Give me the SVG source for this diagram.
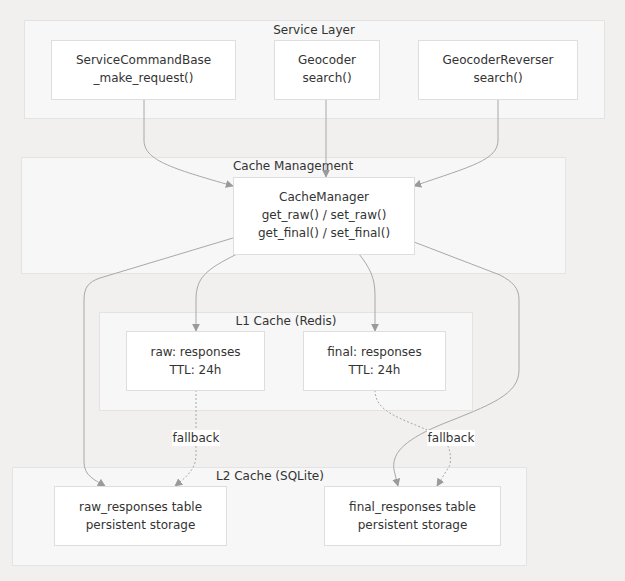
<svg xmlns="http://www.w3.org/2000/svg" width="625" height="581" viewBox="0 0 625 581">
<defs>
<marker id="arr" viewBox="0 0 10 10" refX="9" refY="5" markerWidth="8" markerHeight="8" orient="auto" markerUnits="userSpaceOnUse">
<path d="M0,0 L10,5 L0,10 z" fill="#9a9a9a"/>
</marker>
<style>
.cluster{fill:#f7f7f7;stroke:#e3e3e3;stroke-width:1}
.node{fill:#ffffff;stroke:#dedede;stroke-width:1}
text{font-family:"DejaVu Sans","Noto Sans",sans-serif;font-size:12px;fill:#333;text-anchor:middle}
.edge{fill:none;stroke:#a8a8a8;stroke-width:1;marker-end:url(#arr)}
.dot{stroke-dasharray:2,2}
.lbl{fill:#ffffff}
</style>
</defs>
<rect width="625" height="581" fill="#f1f0ee"/>
<g id="clusters">
<g id="service-layer"><rect class="cluster" x="24.5" y="20.5" width="580" height="98"/><text x="314" y="34">Service Layer</text></g>
<g id="cache-management"><rect class="cluster" x="21.5" y="157.5" width="544" height="116"/><text x="293" y="170">Cache Management</text></g>
<g id="l1-cache"><rect class="cluster" x="99.5" y="312.5" width="373" height="98"/><text x="286" y="325">L1 Cache (Redis)</text></g>
<g id="l2-cache"><rect class="cluster" x="12.5" y="467.5" width="514" height="98"/><text x="270" y="480">L2 Cache (SQLite)</text></g>
</g>
<g id="connectors">
<path class="edge" d="M144,99 L144,140 C144,160 170,168 233,186"/>
<path class="edge" d="M326,99 L326,177"/>
<path class="edge" d="M498,99 L498,140 C498,160 472,166 414,186"/>
<path class="edge" d="M233,238 L100,278 C88,282 84,288 84,300 L84,462 C84,476 95,480 105,486"/>
<path class="edge" d="M237,254 C205,270 196,278 196,300 L196,331"/>
<path class="edge" d="M359,254 C370,268 375,278 375,295 L375,331"/>
<path class="edge" d="M414,242 L500,275 C513,282 519,288 519,300 L519,370 C519,395 490,405 440,425 C400,442 392,455 394,470 L398,486"/>
<path class="edge dot" d="M196,390 L196,455 C196,470 185,478 175,486"/>
<path class="edge dot" d="M375,390 C375,412 400,418 432,432 C448,440 452,450 450,465 L437,486"/>
<rect class="lbl" x="172" y="430" width="48" height="16"/>
<text x="196" y="442">fallback</text>
<rect class="lbl" x="427" y="430" width="48" height="16"/>
<text x="451" y="442">fallback</text>
</g>
<g id="ServiceCommandBase"><rect class="node" x="51.5" y="40.5" width="184" height="59"/><text x="143.5" y="64">ServiceCommandBase</text><text x="143.5" y="82">_make_request()</text></g>
<g id="Geocoder"><rect class="node" x="274.5" y="40.5" width="105" height="59"/><text x="327" y="64">Geocoder</text><text x="327" y="82">search()</text></g>
<g id="GeocoderReverser"><rect class="node" x="418.5" y="40.5" width="159" height="59"/><text x="498" y="64">GeocoderReverser</text><text x="498" y="82">search()</text></g>
<g id="CacheManager"><rect class="node" x="233.5" y="177.5" width="181" height="77"/><text x="324" y="201">CacheManager</text><text x="324" y="219">get_raw() / set_raw()</text><text x="324" y="237">get_final() / set_final()</text></g>
<g id="raw-responses"><rect class="node" x="126.5" y="331.5" width="138" height="59"/><text x="195.5" y="356">raw: responses</text><text x="195.5" y="374">TTL: 24h</text></g>
<g id="final-responses"><rect class="node" x="303.5" y="331.5" width="142" height="59"/><text x="374.5" y="356">final: responses</text><text x="374.5" y="374">TTL: 24h</text></g>
<g id="raw-responses-table"><rect class="node" x="54.5" y="486.5" width="172" height="59"/><text x="140.5" y="511">raw_responses table</text><text x="140.5" y="529">persistent storage</text></g>
<g id="final-responses-table"><rect class="node" x="324.5" y="486.5" width="176" height="59"/><text x="412.5" y="511">final_responses table</text><text x="412.5" y="529">persistent storage</text></g>
</svg>
